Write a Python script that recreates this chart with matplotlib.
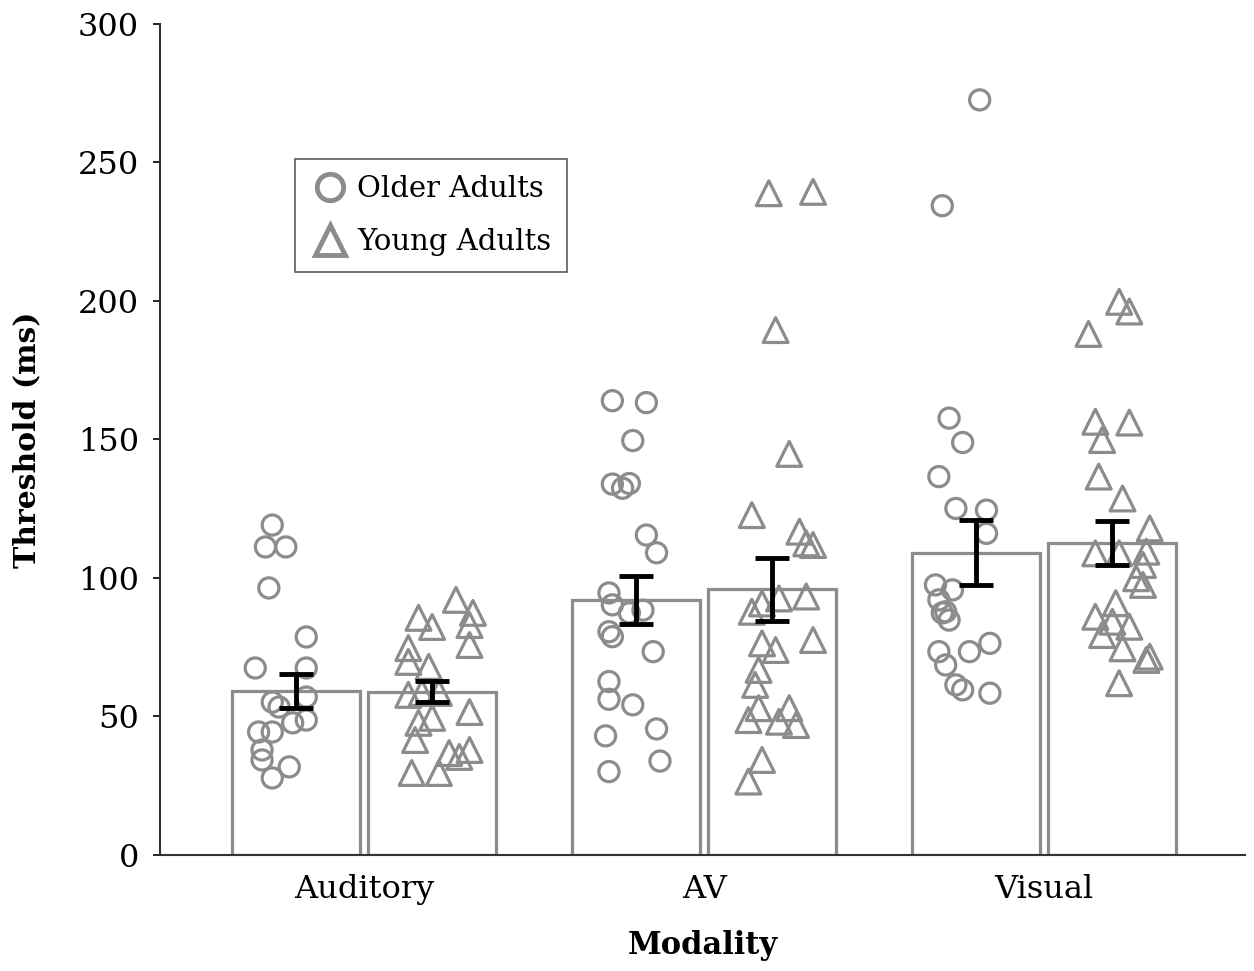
import matplotlib
matplotlib.use("Agg")
import matplotlib.pyplot as plt
import numpy as np
from matplotlib.lines import Line2D

plt.rcParams['font.family'] = ['DejaVu Serif']

# donnees
modalites = ['Auditory', 'AV', 'Visual']
moy_old = [59.3, 92.0, 109.1]
moy_young = [59.0, 95.9, 112.7]
err_old = [6.2, 8.7, 11.8]
err_young = [3.7, 11.3, 8.0]

aud_old = [119.1, 111.2, 111.2, 96.4, 78.7, 67.5, 67.5, 55.2, 53.4, 57.0, 48.7, 47.7,
           44.4, 44.4, 37.9, 34.3, 31.8, 27.8]
aud_old_dx = [-0.07, -0.09, -0.03, -0.08, 0.03, -0.12, 0.03, -0.07, -0.05, 0.03, 0.03, -0.01,
              -0.07, -0.11, -0.10, -0.10, -0.02, -0.07]
aud_young = [92.1, 87.4, 85.6, 82.3, 83.0, 75.8, 74.7, 69.7, 67.9, 57.8, 58.5, 58.5, 51.6,
             49.5, 47.7, 41.5, 36.8, 35.4, 37.9, 29.6, 29.6]
aud_young_dx = [0.07, 0.12, -0.04, 0.00, 0.11, 0.11, -0.07, -0.07, -0.01, -0.07, -0.03, 0.02,
                0.11, 0.00, -0.04, -0.05, 0.05, 0.08, 0.11, -0.06, 0.02]
av_old = [164.0, 163.3, 149.6, 133.9, 134.1, 132.4, 115.5, 109.1, 94.6, 90.3, 87.4, 88.4,
          80.6, 78.8, 73.4, 62.6, 56.2, 54.2, 43.0, 45.5, 33.9, 30.1]
av_old_dx = [-0.07, 0.03, -0.01, -0.07, -0.02, -0.04, 0.03, 0.06, -0.08, -0.07, -0.02, 0.02,
             -0.08, -0.07, 0.05, -0.08, -0.08, -0.01, -0.09, 0.06, 0.07, -0.08]
av_young = [238.9, 239.4, 189.5, 144.8, 122.7, 116.7, 112.5, 111.9, 93.3, 92.6, 90.8, 87.8,
            77.6, 76.4, 74.0, 66.8, 61.4, 53.0, 53.0, 48.7, 48.1, 46.9, 34.3, 26.5]
av_young_dx = [-0.01, 0.12, 0.01, 0.05, -0.06, 0.08, 0.10, 0.12, 0.10, 0.02, -0.03, -0.06,
               0.12, -0.03, 0.01, -0.04, -0.05, -0.04, 0.05, -0.07, 0.02, 0.07, -0.03, -0.07]
vis_old = [272.6, 234.4, 157.7, 148.9, 136.6, 125.1, 124.5, 116.1, 97.5, 95.7, 92.1, 87.8,
           87.4, 84.8, 73.4, 73.4, 76.4, 68.6, 61.4, 59.6, 58.4]
vis_old_dx = [0.01, -0.10, -0.08, -0.04, -0.11, -0.06, 0.03, 0.03, -0.12, -0.07, -0.11, -0.09,
              -0.10, -0.08, -0.11, -0.02, 0.04, -0.09, -0.06, -0.04, 0.04]
vis_young = [199.7, 196.2, 188.1, 156.4, 156.1, 149.8, 136.6, 128.7, 117.9, 108.9, 108.9,
             109.5, 104.7, 99.9, 97.5, 90.9, 86.0, 84.2, 82.4, 79.4, 74.6, 71.6, 70.4, 62.0]
vis_young_dx = [0.02, 0.05, -0.07, -0.05, 0.05, -0.03, -0.04, 0.03, 0.11, -0.05, 0.02, 0.10,
                0.09, 0.07, 0.09, 0.01, -0.05, 0.00, 0.05, -0.03, 0.03, 0.11, 0.10, 0.02]

points_old = [(aud_old, aud_old_dx), (av_old, av_old_dx), (vis_old, vis_old_dx)]
points_young = [(aud_young, aud_young_dx), (av_young, av_young_dx), (vis_young, vis_young_dx)]

gris = '#8c8c8c'
x = np.arange(len(modalites))
dec = 0.2
larg = 0.376

fig = plt.figure(figsize=(12.54, 9.71), dpi=100)
ax = fig.add_axes([0.1276, 0.1195, 0.8652, 0.8558])

ax.bar(x - dec, moy_old, larg, color='white', edgecolor=gris, linewidth=2.3, zorder=1)
ax.bar(x + dec, moy_young, larg, color='white', edgecolor=gris, linewidth=2.3, zorder=1)

for i in range(len(modalites)):
    v, d = points_old[i]
    ax.scatter(x[i] - dec + np.array(d), v, s=210, marker='o', facecolors='none',
               edgecolors=gris, linewidths=2.3, zorder=2)
    v, d = points_young[i]
    ax.scatter(x[i] + dec + np.array(d), v, s=320, marker='^', facecolors='none',
               edgecolors=gris, linewidths=2.3, zorder=2)

ax.errorbar(x - dec, moy_old, yerr=err_old, fmt='none', ecolor='black', elinewidth=3.5,
            capsize=12, capthick=3.5, zorder=3)
ax.errorbar(x + dec, moy_young, yerr=err_young, fmt='none', ecolor='black', elinewidth=3.5,
            capsize=12, capthick=3.5, zorder=3)

ax.set_xlim(-0.6, 2.59)
ax.set_ylim(0, 300)
ax.set_yticks([0, 50, 100, 150, 200, 250, 300])
ax.set_xticks(x)
ax.set_xticklabels(modalites)
ax.tick_params(axis='both', labelsize=23, colors='black')
ax.tick_params(axis='x', length=0, pad=14)
ax.tick_params(axis='y', length=5, width=1.2, pad=10)
for s in ['top', 'right']:
    ax.spines[s].set_visible(False)
for s in ['left', 'bottom']:
    ax.spines[s].set_linewidth(1.5)
    ax.spines[s].set_color('#333333')

ax.set_ylabel('Threshold (ms)', fontsize=21.5, fontweight='bold', labelpad=26)
ax.set_xlabel('Modality', fontsize=22, fontweight='bold', labelpad=18)

poignees = [Line2D([], [], marker='o', linestyle='none', markerfacecolor='none',
                   markeredgecolor=gris, markeredgewidth=3.5, markersize=19),
            Line2D([], [], marker='^', linestyle='none', markerfacecolor='none',
                   markeredgecolor=gris, markeredgewidth=3.5, markersize=21)]
leg = ax.legend(poignees, ['Older Adults', 'Young Adults'], loc='upper left',
                bbox_to_anchor=(0.124, 0.837), fontsize=21, frameon=True, fancybox=False,
                handletextpad=0.3, borderpad=0.55, labelspacing=0.85, handlelength=1.3,
                borderaxespad=0)
leg.get_frame().set_edgecolor('#333333')
leg.get_frame().set_linewidth(1.2)

plt.savefig('out.png', dpi=100)
